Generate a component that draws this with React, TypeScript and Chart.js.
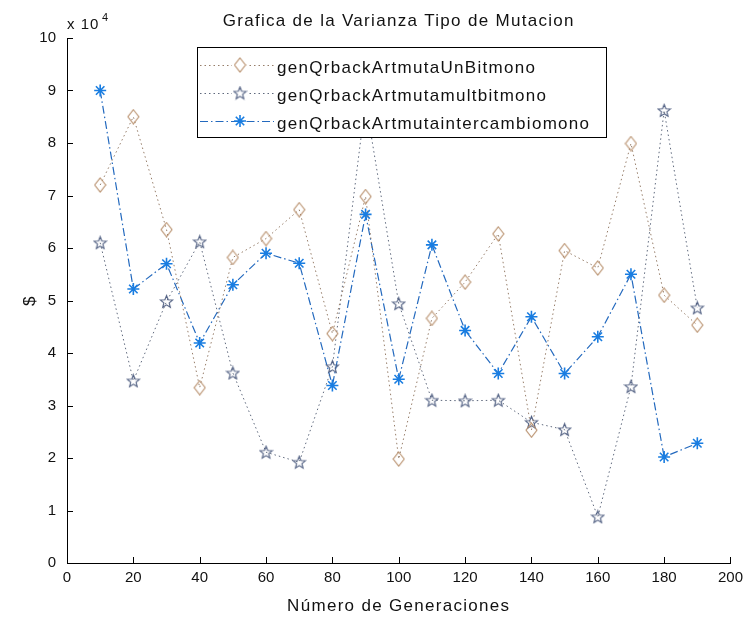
import React, { useEffect, useRef } from "react";
import { Chart, registerables } from "chart.js";

Chart.register(...registerables);

// ---- data ----
const generations = [10, 20, 30, 40, 50, 60, 70, 80, 90, 100, 110, 120, 130, 140, 150, 160, 170, 180, 190];
const unBitValues = [72000, 85000, 63500, 33400, 58200, 61800, 67300, 43700, 69800, 19800, 46600, 53500, 62700, 25300, 59500, 56200, 79900, 51000, 45300];
const multBitValues = [61000, 34700, 49800, 61200, 36200, 21100, 19200, 37400, 88000, 49400, 31000, 30900, 31000, 26800, 25400, 8800, 33600, 86200, 48600];
const intercambioValues = [90000, 52200, 57000, 41900, 53000, 59000, 57100, 33800, 66400, 35000, 60600, 44300, 36100, 46900, 36100, 43100, 55000, 20200, 22800];
const seriesNames = [
  "genQrbackArtmutaUnBitmono",
  "genQrbackArtmutamultbitmono",
  "genQrbackArtmutaintercambiomono",
];
const titleText = "Grafica de la Varianza Tipo de Mutacion";
const xTitle = "Número de Generaciones";
const yTitle = "$";
const xMin = 0;
const xMax = 200;
const xStep = 20;
const yMin = 0;
const yMax = 100000;
const yStep = 10000;
const yExponent = 4;

// ---- styles ----
const FONT = '"Liberation Sans", Arial, sans-serif';
const diamondColor = "rgb(185,145,110)";
const diamondLine = "rgb(150,125,105)";
const starColor = "rgb(80,95,130)";
const starLine = "rgb(95,105,125)";
const astColor = "rgb(25,125,225)";
const astLine = "rgb(35,105,190)";
const dotDash = [1.5, 3];
const dashDot = [8, 3, 1.5, 3];

function makeDiamond(color: string): HTMLCanvasElement {
  const c = document.createElement("canvas");
  c.width = 13;
  c.height = 16;
  const g = c.getContext("2d")!;
  g.strokeStyle = color;
  g.lineWidth = 1.1;
  g.beginPath();
  g.moveTo(6.5, 1);
  g.lineTo(12, 8);
  g.lineTo(6.5, 15);
  g.lineTo(1, 8);
  g.closePath();
  g.stroke();
  return c;
}

function makePentagram(color: string): HTMLCanvasElement {
  const c = document.createElement("canvas");
  c.width = 15;
  c.height = 15;
  const g = c.getContext("2d")!;
  g.strokeStyle = color;
  g.lineWidth = 1.1;
  g.beginPath();
  const cx = 7.5, cy = 8, ro = 6.5, ri = 2.8;
  for (let i = 0; i < 10; i++) {
    const r = i % 2 === 0 ? ro : ri;
    const a = -Math.PI / 2 + (i * Math.PI) / 5;
    const px = cx + r * Math.cos(a);
    const py = cy + r * Math.sin(a);
    if (i === 0) g.moveTo(px, py);
    else g.lineTo(px, py);
  }
  g.closePath();
  g.stroke();
  return c;
}

function drawAsterisk(ctx: CanvasRenderingContext2D, x: number, y: number, r: number, color: string) {
  ctx.save();
  ctx.strokeStyle = color;
  ctx.lineWidth = 1.6;
  ctx.beginPath();
  ctx.moveTo(x - r, y);
  ctx.lineTo(x + r, y);
  ctx.moveTo(x, y - r);
  ctx.lineTo(x, y + r);
  const d = r * 0.7;
  ctx.moveTo(x - d, y - d);
  ctx.lineTo(x + d, y + d);
  ctx.moveTo(x - d, y + d);
  ctx.lineTo(x + d, y - d);
  ctx.stroke();
  ctx.restore();
}

export default function App() {
  const ref = useRef<HTMLCanvasElement>(null);

  useEffect(() => {
    const canvas = ref.current!;
    const diamondImg = makeDiamond(diamondColor);
    const starImg = makePentagram(starColor);

    const decor = {
      id: "decor",
      afterDatasetsDraw(chart: any) {
        const ctx: CanvasRenderingContext2D = chart.ctx;
        const xs = chart.scales.x;
        const ys = chart.scales.y;
        const area = chart.chartArea;
        ctx.save();
        // inward tick marks
        ctx.strokeStyle = "#000";
        ctx.lineWidth = 1;
        ctx.beginPath();
        for (let v = yMin; v <= yMax; v += yStep) {
          const py = Math.round(ys.getPixelForValue(v)) + 0.5;
          ctx.moveTo(area.left, py);
          ctx.lineTo(area.left + 6, py);
        }
        for (let v = xMin; v <= xMax; v += xStep) {
          const px = Math.round(xs.getPixelForValue(v)) + 0.5;
          ctx.moveTo(px, area.bottom);
          ctx.lineTo(px, area.bottom - 6);
        }
        ctx.stroke();

        // legend box
        const lx = 197.5, ly = 47.5, lw = 409, lh = 90;
        ctx.fillStyle = "#fff";
        ctx.fillRect(lx, ly, lw, lh);
        ctx.strokeStyle = "#000";
        ctx.strokeRect(lx, ly, lw, lh);
        const rows = [65, 93, 121];
        const lineCols = [diamondLine, starLine, astLine];
        const dashes = [dotDash, dotDash, dashDot];
        (ctx as any).letterSpacing = "1.3px";
        ctx.font = `17px ${FONT}`;
        ctx.textAlign = "left";
        ctx.textBaseline = "alphabetic";
        rows.forEach((ry, i) => {
          ctx.save();
          ctx.strokeStyle = lineCols[i];
          ctx.lineWidth = 1;
          ctx.setLineDash(dashes[i]);
          ctx.beginPath();
          ctx.moveTo(200, ry + 0.5);
          ctx.lineTo(274, ry + 0.5);
          ctx.stroke();
          ctx.restore();
          ctx.fillStyle = "#fff";
          if (i === 0) {
            ctx.fillRect(232, ry - 8, 16, 16);
            ctx.drawImage(diamondImg, 240 - diamondImg.width / 2, ry - diamondImg.height / 2);
          } else if (i === 1) {
            ctx.fillRect(232, ry - 8, 16, 16);
            ctx.drawImage(starImg, 240 - starImg.width / 2, ry - starImg.height / 2);
          } else {
            drawAsterisk(ctx, 240, ry, 6, astColor);
          }
          ctx.fillStyle = "#111";
          ctx.fillText(seriesNames[i], 277, ry + 8);
        });

        // title
        ctx.fillStyle = "#111";
        ctx.textAlign = "center";
        ctx.font = `17px ${FONT}`;
        ctx.fillText(titleText, (area.left + area.right) / 2, 26);
        // x title
        ctx.fillText(xTitle, (area.left + area.right) / 2, 611);
        // y title
        ctx.save();
        ctx.translate(29, (area.top + area.bottom) / 2);
        ctx.rotate(-Math.PI / 2);
        ctx.fillText(yTitle, 0, 6);
        ctx.restore();
        // exponent
        ctx.textAlign = "left";
        (ctx as any).letterSpacing = "1px";
        ctx.font = `15px ${FONT}`;
        ctx.fillText("x 10", area.left, 29);
        ctx.font = `11px ${FONT}`;
        ctx.fillText(String(yExponent), area.left + 35, 21);
        (ctx as any).letterSpacing = "0px";
        ctx.restore();
      },
    };

    const toXY = (vals: number[]) => generations.map((g, i) => ({ x: g, y: vals[i] }));
    const tickFont = { family: FONT, size: 15 };

    const chart = new Chart(canvas, {
      type: "line",
      data: {
        datasets: [
          {
            label: seriesNames[0],
            data: toXY(unBitValues),
            borderColor: diamondLine,
            borderWidth: 1,
            borderDash: dotDash,
            pointStyle: diamondImg as any,
            pointRadius: 6,
            tension: 0,
            fill: false,
          },
          {
            label: seriesNames[1],
            data: toXY(multBitValues),
            borderColor: starLine,
            borderWidth: 1,
            borderDash: dotDash,
            pointStyle: starImg as any,
            pointRadius: 6,
            tension: 0,
            fill: false,
          },
          {
            label: seriesNames[2],
            data: toXY(intercambioValues),
            borderColor: astLine,
            borderWidth: 1.2,
            borderDash: dashDot,
            pointStyle: "star",
            pointRadius: 6,
            pointBorderColor: astColor,
            pointBackgroundColor: astColor,
            pointBorderWidth: 1.6,
            tension: 0,
            fill: false,
          },
        ],
      },
      options: {
        animation: false,
        responsive: true,
        maintainAspectRatio: false,
        events: [],
        layout: { padding: { top: 38, right: 16, left: 0, bottom: 0 } },
        plugins: {
          legend: { display: false },
          title: { display: false },
          tooltip: { enabled: false },
        },
        scales: {
          x: {
            type: "linear",
            min: xMin,
            max: xMax,
            ticks: {
              stepSize: xStep,
              padding: 6,
              font: tickFont,
              color: "#111",
              maxRotation: 0,
              autoSkip: false,
            },
            grid: { display: true, drawOnChartArea: false, drawTicks: false },
            border: { display: true, color: "#000", width: 1 },
            afterFit: (s: any) => {
              s.height = 57;
            },
          },
          y: {
            type: "linear",
            min: yMin,
            max: yMax,
            ticks: {
              stepSize: yStep,
              padding: 11,
              font: tickFont,
              color: "#111",
              callback: (v: any) => String(Number(v) / Math.pow(10, yExponent)),
            },
            grid: { display: true, drawOnChartArea: false, drawTicks: false },
            border: { display: true, color: "#000", width: 1 },
            afterFit: (s: any) => {
              s.width = 67;
            },
          },
        },
      },
      plugins: [decor],
    });
    return () => chart.destroy();
  }, []);

  return (
    <div style={{ position: "fixed", left: 0, top: 0, width: 749, height: 620, background: "#fff" }}>
      <canvas ref={ref} />
    </div>
  );
}
